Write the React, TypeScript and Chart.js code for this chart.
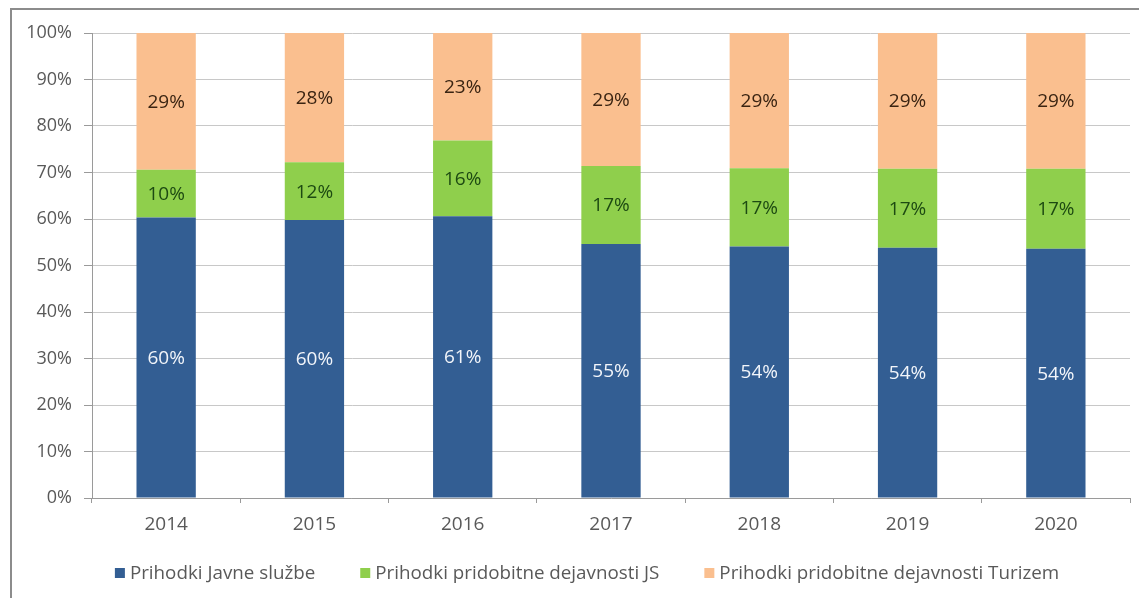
import React, { useEffect, useRef } from "react";
import { Chart, registerables } from "chart.js";

Chart.register(...registerables);

const years = ["2014", "2015", "2016", "2017", "2018", "2019", "2020"];
const javneSluzbe = [60.3, 59.8, 60.6, 54.6, 54.1, 53.8, 53.6];
const dejavnostJS = [10.3, 12.4, 16.3, 16.8, 16.8, 17.0, 17.2];
const dejavnostTurizem = [29.4, 27.8, 23.1, 28.6, 29.1, 29.2, 29.2];
const seriesNames = [
  "Prihodki Javne službe",
  "Prihodki pridobitne dejavnosti JS",
  "Prihodki pridobitne dejavnosti Turizem",
];
const yTicks = [0, 10, 20, 30, 40, 50, 60, 70, 80, 90, 100];

const FONT = "'Open Sans', sans-serif";
const colors = ["#335e93", "#8fcf4c", "#fabf8f"];
const labelColors = ["#f2f5fa", "#1d4a12", "#3a2412"];

const dataLabelPlugin = {
  id: "segmentLabels",
  afterDatasetsDraw(chart: any) {
    const ctx = chart.ctx;
    ctx.save();
    ctx.font = `19px ${FONT}`;
    ctx.textAlign = "center";
    ctx.textBaseline = "middle";
    chart.data.datasets.forEach((ds: any, di: number) => {
      const meta = chart.getDatasetMeta(di);
      meta.data.forEach((bar: any, i: number) => {
        const { x, y, base } = bar.getProps(["x", "y", "base"], true);
        ctx.fillStyle = labelColors[di];
        ctx.fillText(Math.round(ds.data[i]) + "%", x, (y + base) / 2 + 1);
      });
    });
    ctx.restore();
  },
};

const legendPlugin = {
  id: "customLegend",
  afterDraw(chart: any) {
    const ctx = chart.ctx;
    ctx.save();
    ctx.font = `18.8px ${FONT}`;
    ctx.textBaseline = "middle";
    ctx.textAlign = "left";
    const box = 10;
    const gapBoxText = 5;
    const gapItems = 45;
    const items = chart.data.datasets.map((ds: any) => ({
      text: ds.label,
      color: ds.backgroundColor,
      w: box + gapBoxText + ctx.measureText(ds.label).width,
    }));
    const total =
      items.reduce((s: number, it: any) => s + it.w, 0) +
      gapItems * (items.length - 1);
    const centerX = 587;
    const cy = 573;
    let x = centerX - total / 2;
    items.forEach((it: any) => {
      ctx.fillStyle = it.color;
      ctx.fillRect(x, cy - box / 2, box, box);
      ctx.fillStyle = "#595959";
      ctx.fillText(it.text, x + box + gapBoxText, cy + 1);
      x += it.w + gapItems;
    });
    ctx.restore();
  },
};

export default function App() {
  const canvasRef = useRef<HTMLCanvasElement | null>(null);

  useEffect(() => {
    if (!canvasRef.current) return;
    const chart = new Chart(canvasRef.current, {
      type: "bar",
      data: {
        labels: years,
        datasets: [
          { label: seriesNames[0], data: javneSluzbe, backgroundColor: colors[0] },
          { label: seriesNames[1], data: dejavnostJS, backgroundColor: colors[1] },
          { label: seriesNames[2], data: dejavnostTurizem, backgroundColor: colors[2] },
        ],
      },
      options: {
        animation: false,
        responsive: false,
        maintainAspectRatio: false,
        datasets: { bar: { categoryPercentage: 1, barPercentage: 0.4 } } as any,
        layout: { padding: { left: 0, right: 9, top: 33, bottom: 44 } },
        plugins: {
          legend: { display: false },
          tooltip: { enabled: false },
          title: { display: false },
        },
        scales: {
          x: {
            stacked: true,
            afterFit: (s: any) => {
              s.height = 56;
            },
            grid: {
              offset: true,
              drawOnChartArea: false,
              drawTicks: true,
              tickLength: 5,
              color: "#9a9a9a",
            },
            border: { color: "#9a9a9a", width: 1 },
            ticks: {
              color: "#595959",
              font: { family: FONT, size: 19 },
              padding: 10,
            },
          },
          y: {
            stacked: true,
            min: 0,
            max: 100,
            afterFit: (s: any) => {
              s.width = 92;
            },
            afterBuildTicks: (s: any) => {
              s.ticks = yTicks.map((v) => ({ value: v }));
            },
            grid: {
              color: "#c8c8c8",
              drawTicks: true,
              tickLength: 8,
              tickColor: "#9a9a9a",
            },
            border: { color: "#9a9a9a", width: 1 },
            ticks: {
              color: "#595959",
              font: { family: FONT, size: 18 },
              padding: 12,
              callback: (v: any) => v + "%",
            },
          },
        },
      },
      plugins: [dataLabelPlugin, legendPlugin],
    });
    return () => chart.destroy();
  }, []);

  return (
    <div
      style={{
        position: "fixed",
        left: 0,
        top: 0,
        width: 1139,
        height: 598,
        background: "#fff",
        overflow: "hidden",
      }}
    >
      <canvas
        ref={canvasRef}
        width={1139}
        height={598}
        style={{ position: "absolute", left: 0, top: 0, width: 1139, height: 598 }}
      />
      <div
        style={{
          position: "absolute",
          left: 10,
          top: 8,
          width: 1200,
          height: 700,
          borderTop: "2px solid #8c8c8c",
          borderLeft: "2px solid #8c8c8c",
          pointerEvents: "none",
        }}
      />
    </div>
  );
}
